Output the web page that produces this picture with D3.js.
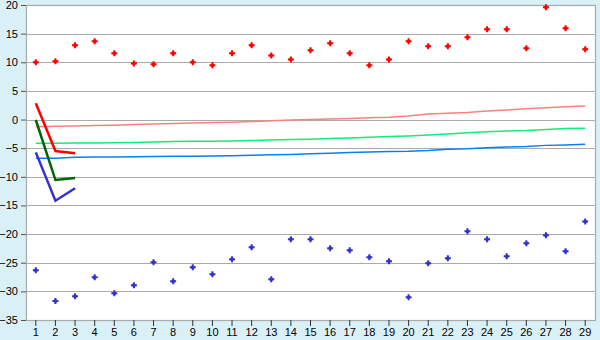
<!DOCTYPE html>
<html>
<head>
<meta charset="utf-8">
<script src="https://cdn.jsdelivr.net/npm/d3@7"></script>
<style>
  body { margin: 0; background: #d9f0f7; }
  svg { display: block; font-family: "DejaVu Sans", sans-serif; }
</style>
</head>
<body>
<svg id="chart"></svg>
<script>
// categories and series
var categories = d3.range(1, 30)
var yTicks = [20, 15, 10, 5, 0, -5, -10, -15, -20, -25, -30, -35]

var redPoints = [10.0, 10.17, 12.96, 13.66, 11.56, 9.8, 9.64, 11.56, 10.0, 9.47,
  11.56, 12.96, 11.2, 10.5, 12.1, 13.3, 11.56, 9.47, 10.5, 13.66,
  12.8, 12.8, 14.36, 15.76, 15.76, 12.44, 19.6, 15.93, 12.27]
var bluePoints = [-26.33, -31.69, -30.87, -27.55, -30.35, -28.95, -24.93, -28.25, -25.8, -27.03,
  -24.4, -22.3, -27.9, -20.9, -20.9, -22.48, -22.83, -24.05, -24.75, -31.04,
  -25.1, -24.23, -19.5, -20.9, -23.88, -21.6, -20.2, -23.0, -17.8]

var redShort = [2.83, -5.49, -5.9]
var greenShort = [-0.08, -10.56, -10.2]
var blueShort = [-5.73, -14.17, -12.0]

var pinkTrend = [-1.25, -1.18, -1.13, -1.06, -0.99, -0.88, -0.78, -0.69, -0.62, -0.53,
  -0.48, -0.36, -0.22, -0.1, 0.01, 0.09, 0.18, 0.30, 0.39, 0.62,
  0.97, 1.11, 1.25, 1.49, 1.67, 1.88, 2.05, 2.22, 2.36]
var greenTrend = [-4.15, -4.13, -4.11, -4.10, -4.06, -4.01, -3.94, -3.83, -3.78, -3.77,
  -3.75, -3.68, -3.59, -3.5, -3.43, -3.33, -3.22, -3.08, -2.98, -2.87,
  -2.70, -2.53, -2.32, -2.14, -2.0, -1.90, -1.72, -1.55, -1.53]
var blueTrend = [-6.77, -6.77, -6.59, -6.56, -6.52, -6.48, -6.45, -6.43, -6.40, -6.38,
  -6.33, -6.23, -6.16, -6.09, -5.98, -5.88, -5.77, -5.67, -5.58, -5.53,
  -5.40, -5.19, -5.11, -4.93, -4.81, -4.71, -4.51, -4.45, -4.32]

var width = 600, height = 340
var plot = { left: 26, right: 595, top: 5, bottom: 320 }

var svg = d3.select("#chart")
  .attr("width", width)
  .attr("height", height)

svg.append("rect")
  .attr("width", width)
  .attr("height", height)
  .attr("fill", "#d9f0f7")

var x = d3.scaleBand()
  .domain(categories)
  .range([plot.left, plot.right])

var y = d3.scaleLinear()
  .domain([-35, 20])
  .range([plot.bottom, plot.top])

function cx(i) {
  return x(categories[i]) + x.bandwidth() / 2
}

// plot area
svg.append("rect")
  .attr("x", plot.left)
  .attr("y", plot.top)
  .attr("width", plot.right - plot.left)
  .attr("height", plot.bottom - plot.top)
  .attr("fill", "#fff")

// grid lines
svg.append("g")
  .selectAll("line")
  .data(yTicks)
  .enter()
  .append("line")
  .attr("x1", plot.left)
  .attr("x2", plot.right)
  .attr("y1", function (d) { return Math.round(y(d)) + 0.5 })
  .attr("y2", function (d) { return Math.round(y(d)) + 0.5 })
  .attr("stroke", "#aaa")
  .attr("stroke-width", 1.2)

// border
svg.append("rect")
  .attr("x", plot.left + 0.5)
  .attr("y", plot.top + 0.5)
  .attr("width", plot.right - plot.left)
  .attr("height", plot.bottom - plot.top)
  .attr("fill", "none")
  .attr("stroke", "#aaa")
  .attr("stroke-width", 1.2)

// y axis
var yAxis = d3.axisLeft(y)
  .tickValues(yTicks)
  .tickSize(5)
  .tickPadding(3)

var yg = svg.append("g")
  .attr("transform", "translate(" + plot.left + ",0)")
  .call(yAxis)
yg.select(".domain").remove()
yg.selectAll(".tick line").attr("stroke", "#555")
yg.selectAll("text").attr("font-size", 11).attr("fill", "#000")

// x axis
var xAxis = d3.axisBottom(x)
  .tickSize(6)
  .tickPadding(2)

var xg = svg.append("g")
  .attr("transform", "translate(0," + plot.bottom + ")")
  .call(xAxis)
xg.select(".domain").remove()
xg.selectAll(".tick line").attr("stroke", "#333")
xg.selectAll("text").attr("font-size", 11).attr("fill", "#000")

// thin trend lines
var line = d3.line()
  .x(function (d, i) { return cx(i) })
  .y(function (d) { return y(d) })

var trends = [
  { values: pinkTrend, color: "#ff8080" },
  { values: greenTrend, color: "#11ee77" },
  { values: blueTrend, color: "#0a7ff0" }
]

svg.append("g")
  .selectAll("path")
  .data(trends)
  .enter()
  .append("path")
  .attr("d", function (d) { return line(d.values) })
  .attr("fill", "none")
  .attr("stroke", function (d) { return d.color })
  .attr("stroke-width", 1.5)

// thick short lines
var shorts = [
  { values: redShort, color: "#ff0000" },
  { values: greenShort, color: "#006600" },
  { values: blueShort, color: "#3333cc" }
]

svg.append("g")
  .selectAll("path")
  .data(shorts)
  .enter()
  .append("path")
  .attr("d", function (d) { return line(d.values) })
  .attr("fill", "none")
  .attr("stroke", function (d) { return d.color })
  .attr("stroke-width", 2.5)

// point markers: small plus with a filled centre
var cross = d3.symbol().type(d3.symbolCross).size(20)
var centre = d3.symbol().type(d3.symbolSquare).size(9)

function drawPoints(values, color) {
  var g = svg.append("g")
    .selectAll("g")
    .data(values)
    .enter()
    .append("g")
    .attr("transform", function (d, i) {
      return "translate(" + cx(i) + "," + y(d) + ")"
    })
    .attr("fill", color)
  g.append("path").attr("d", cross)
  g.append("path").attr("d", centre)
}

drawPoints(redPoints, "#ff0000")
drawPoints(bluePoints, "#3333cc")
</script>
</body>
</html>
